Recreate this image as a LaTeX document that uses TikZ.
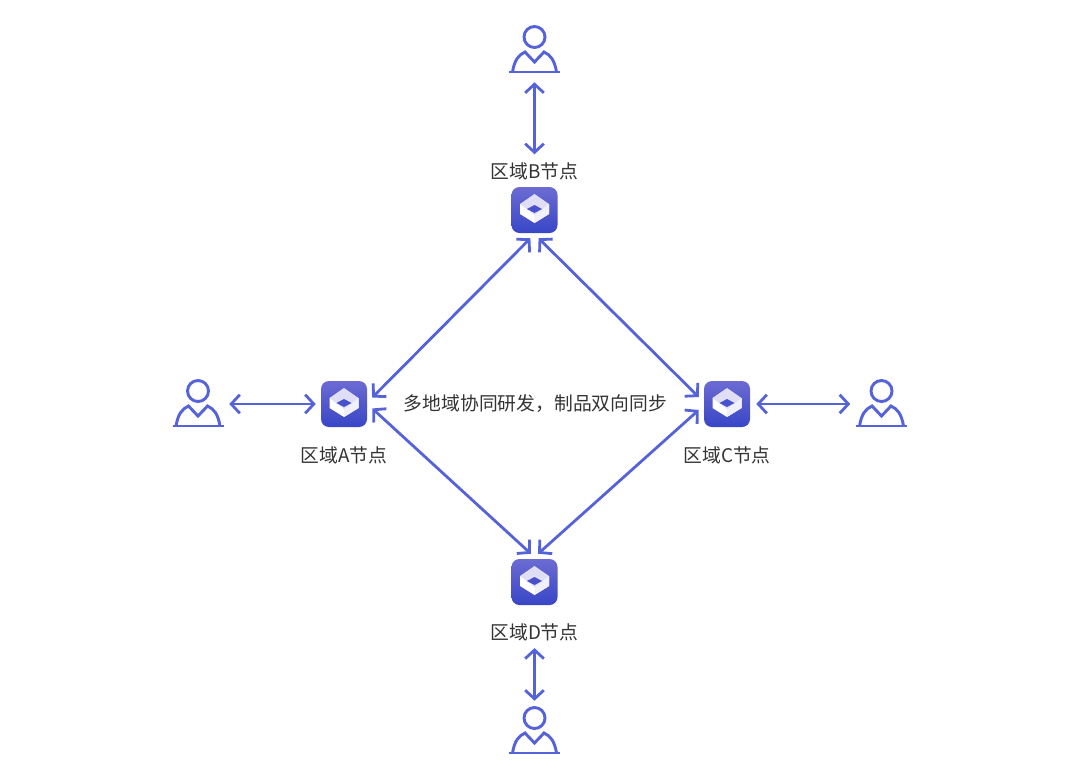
\documentclass[tikz,border=0pt]{standalone}
\usepackage{fontspec}
\setmainfont{Noto Sans CJK SC}
\usepackage{tikz}
\usetikzlibrary{arrows.meta,positioning}
\definecolor{linkblue}{HTML}{5562D8}
\definecolor{icontop}{HTML}{6C6BD2}
\definecolor{iconbottom}{HTML}{3846C6}
\definecolor{labelgray}{HTML}{333333}
\tikzset{
  link/.style = {
    draw=linkblue, line width=2.1pt,
    {Straight Barb[length=6.5pt,width=14pt]}-{Straight Barb[length=6.5pt,width=14pt]}
  },
  regionlabel/.style = {
    font=\fontsize{14.1pt}{16pt}\selectfont, text=labelgray, inner sep=0pt
  },
  regionnode/.style = {
    shape=rectangle, rounded corners=6pt, minimum size=34.5pt, inner sep=0pt,
    top color=icontop, bottom color=iconbottom,
    path picture={
      \begin{scope}[shift={(path picture bounding box.center)}, sharp corners]
        \fill[white] (0,-6) -- (14.5,-6) -- (14.5,4) -- (0,13) -- (-14.5,4) -- (-14.5,-6) -- cycle;
        \fill[white!90!icontop] (0,5) -- (14.5,-6) -- (14.5,4) -- (0,13) -- cycle;
        \fill[white!78!icontop] (0,-16) -- (14.5,-6) -- (0,5) -- (-14.5,-6) -- cycle;
        \fill[iconbottom!70!icontop] (0,-5) -- (7.5,-1) -- (0,3) -- (-7.5,-1) -- cycle;
      \end{scope}
    }
  },
  usernode/.style = {
    shape=rectangle, minimum size=39pt, inner sep=0pt,
    path picture={
      \begin{scope}[shift={(path picture bounding box.center)}, draw=linkblue, line width=2.2pt]
        \draw (0,-13) circle (10.5);
        \draw (-25.5,22) -- (25.5,22);
        \draw (-22,22) .. controls (-20,10) and (-16,5) .. (-9.5,2) -- (0,12)
          -- (9.5,2) .. controls (16,5) and (20,10) .. (22,22);
      \end{scope}
    }
  }
}
\begin{document}
\begin{tikzpicture}[x=0.75pt, y=-0.75pt]
  \useasboundingbox (0,0) rectangle (1080,782);
  \node[regionnode] (nodeA) at (344,404) {};
  \node[regionnode] (nodeB) at (534.5,210) {};
  \node[regionnode] (nodeC) at (727,404) {};
  \node[regionnode] (nodeD) at (534.5,582) {};
  % region names
  \node[regionlabel, below=14pt of nodeA] (nameA) {区域A节点};
  \node[regionlabel, above=5pt of nodeB] (nameB) {区域B节点};
  \node[regionlabel, below=14pt of nodeC] (nameC) {区域C节点};
  \node[regionlabel, below=13.5pt of nodeD] (nameD) {区域D节点};
  \node[regionlabel] (centre) at (535.5,404) {多地域协同研发，制品双向同步};
  % developers
  \node[usernode] (userA) at (198,404) {};
  \node[usernode] (userB) at (534.5,50) {};
  \node[usernode] (userC) at (881.5,404) {};
  \node[usernode] (userD) at (534.5,731) {};
  % links to developers
  \draw[link] ([shift={(5,0)}]userA.east) -- ([shift={(-5,0)}]nodeA.west);
  \draw[link] ([shift={(0,6)}]userB.south) -- ([shift={(0,-8)}]nameB.north);
  \draw[link] ([shift={(6,0)}]nodeC.east) -- ([shift={(-5,0)}]userC.west);
  \draw[link] ([shift={(0,7)}]nameD.south) -- ([shift={(0,-4)}]userD.north);
  % links between regions
  \draw[link] ([shift={(5,2)}]nodeA.20) -- ([shift={(0,5)}]nodeB.260);
  \draw[link] ([shift={(0,5)}]nodeB.280) -- ([shift={(-5,1.5)}]nodeC.160);
  \draw[link] ([shift={(5,-4)}]nodeA.340) -- ([shift={(0.5,-5)}]nodeD.100);
  \draw[link] ([shift={(-0.5,-5)}]nodeD.80) -- ([shift={(-5,-2.5)}]nodeC.200);
\end{tikzpicture}
\end{document}
